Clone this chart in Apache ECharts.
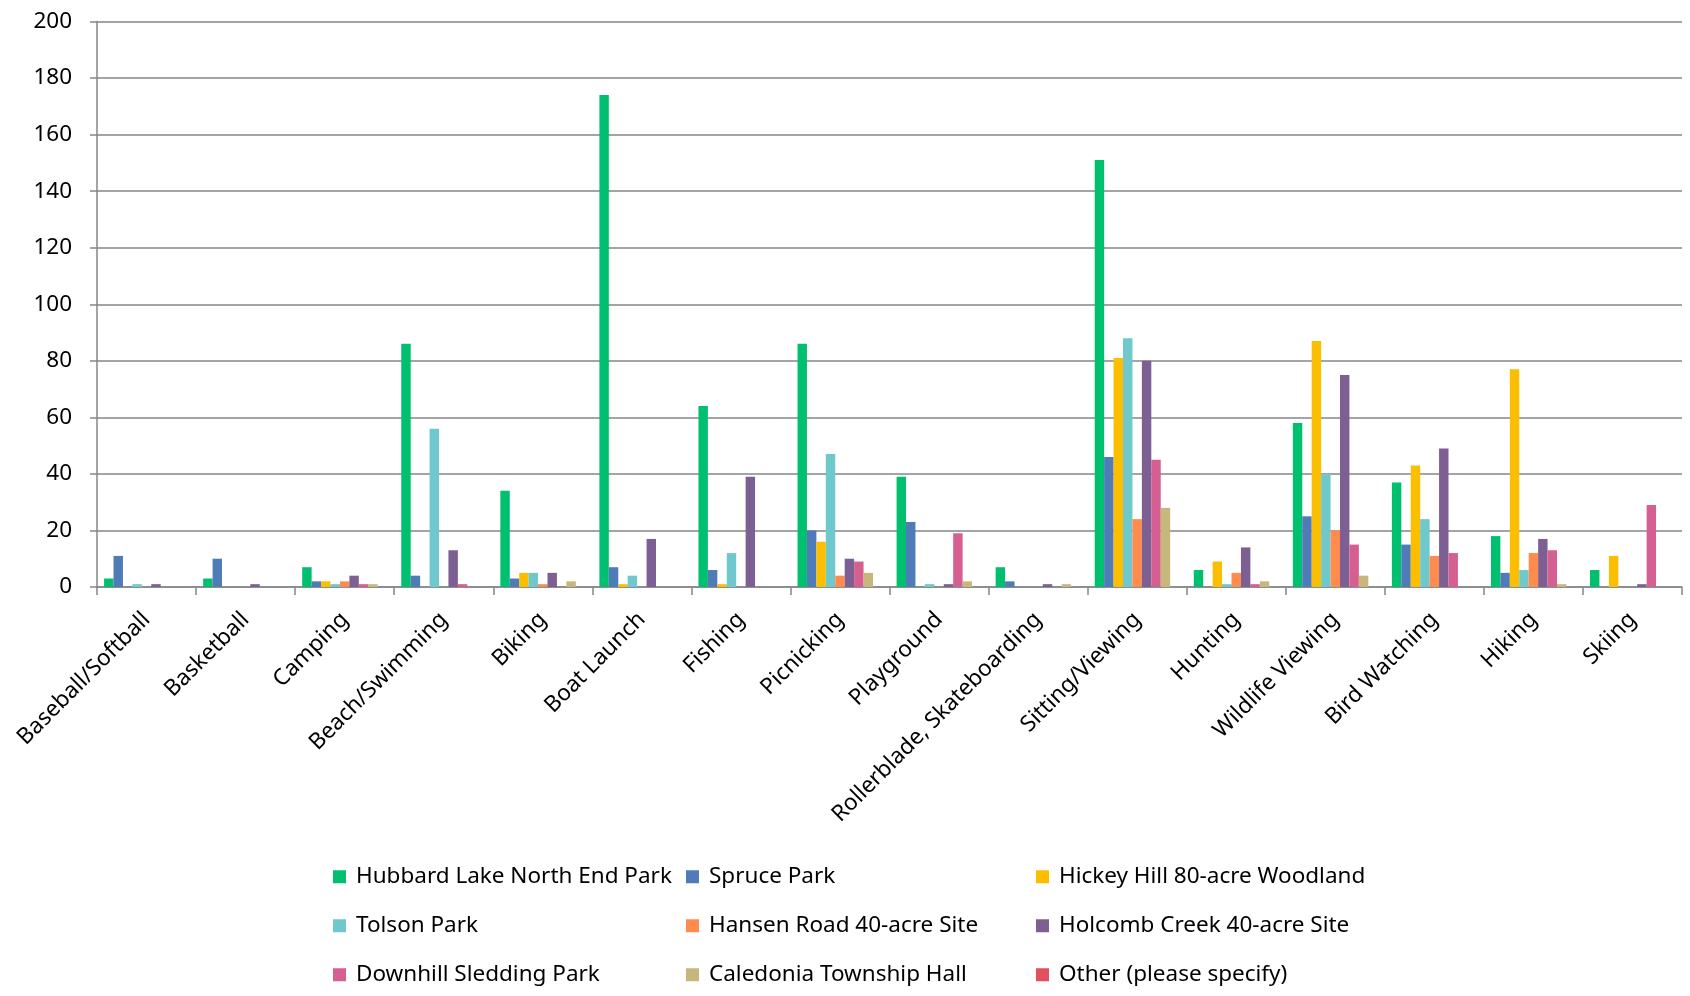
<!DOCTYPE html>
<html>
<head>
<meta charset="utf-8">
<script src="https://cdn.jsdelivr.net/npm/echarts@6/dist/echarts.min.js"></script>
<style>
html,body{margin:0;padding:0;background:#fff;}
#chart{width:1690px;height:996px;}
</style>
</head>
<body>
<div id="chart"></div>
<script>
const categories = ["Baseball/Softball","Basketball","Camping","Beach/Swimming","Biking","Boat Launch","Fishing","Picnicking","Playground","Rollerblade, Skateboarding","Sitting/Viewing","Hunting","Wildlife Viewing","Bird Watching","Hiking","Skiing"];
const yTicks = [0,20,40,60,80,100,120,140,160,180,200];

const hubbard   = [3,3,7,86,34,174,64,86,39,7,151,6,58,37,18,6];
const spruce    = [11,10,2,4,3,7,6,20,23,2,46,0,25,15,5,0];
const hickey    = [0,0,2,0,5,1,1,16,0,0,81,9,87,43,77,11];
const tolson    = [1,0,1,56,5,4,12,47,1,0,88,1,40,24,6,0];
const hansen    = [0,0,2,0,1,0,0,4,0,0,24,5,20,11,12,0];
const holcomb   = [1,1,4,13,5,17,39,10,1,1,80,14,75,49,17,1];
const downhill  = [0,0,1,1,0,0,0,9,19,0,45,1,15,12,13,29];
const caledonia = [0,0,1,0,2,0,0,5,2,1,28,2,4,0,1,0];
const other     = [0,0,0,0,0,0,0,0,0,0,0,0,0,0,0,0];

const seriesNames = ["Hubbard Lake North End Park","Spruce Park","Hickey Hill 80-acre Woodland","Tolson Park","Hansen Road 40-acre Site","Holcomb Creek 40-acre Site","Downhill Sledding Park","Caledonia Township Hall","Other (please specify)"];
const seriesData = [hubbard,spruce,hickey,tolson,hansen,holcomb,downhill,caledonia,other];
const colors = ["#00c06f","#4f7bb8","#fbbe00","#6ec8cc","#ff8b4f","#7d5f93","#d45f90","#c7b77a","#e1505c"];

const FONT = "'Noto Sans', 'Open Sans', sans-serif";
const chart = echarts.init(document.getElementById('chart'), null, {renderer:'canvas'});

const series = seriesNames.map((n,i)=>({
  name:n, type:'bar', data:seriesData[i],
  barGap:'0%', barCategoryGap:'14.3%',
  itemStyle:{color:colors[i]},
  emphasis:{disabled:true}
}));

function legendCol(names,left){
  return {
    orient:'vertical', left:left, top:864.5, padding:0,
    itemWidth:13, itemHeight:13, itemGap:24.5, icon:'rect',
    data:names,
    textStyle:{fontFamily:FONT, fontSize:22.5, color:'#000', lineHeight:24.5, padding:[0,0,0,5]},
    selectedMode:false
  };
}

chart.setOption({
  animation:false,
  color:colors,
  grid:{left:97, right:8, top:21.5, bottom:409, containLabel:false},
  legend:[
    legendCol([seriesNames[0],seriesNames[3],seriesNames[6]],333),
    legendCol([seriesNames[1],seriesNames[4],seriesNames[7]],686),
    legendCol([seriesNames[2],seriesNames[5],seriesNames[8]],1036)
  ],
  xAxis:{
    type:'category', data:categories,
    axisLine:{lineStyle:{color:'#868686', width:1.5}},
    axisTick:{show:true, length:8, lineStyle:{color:'#868686', width:1.5}},
    axisLabel:{rotate:45, interval:0, margin:29, fontFamily:FONT, fontSize:22.5, color:'#000'}
  },
  yAxis:{
    type:'value', min:0, max:200, interval:20,
    axisLine:{show:true, lineStyle:{color:'#868686', width:1.5}},
    axisTick:{show:true, length:7, lineStyle:{color:'#868686', width:1.5}},
    axisLabel:{margin:25, fontFamily:FONT, fontSize:22.5, color:'#000',
      formatter:(v)=> yTicks.includes(v) ? String(v) : ''},
    splitLine:{lineStyle:{color:'#868686', width:1.5}}
  },
  series:series
});
</script>
</body>
</html>
